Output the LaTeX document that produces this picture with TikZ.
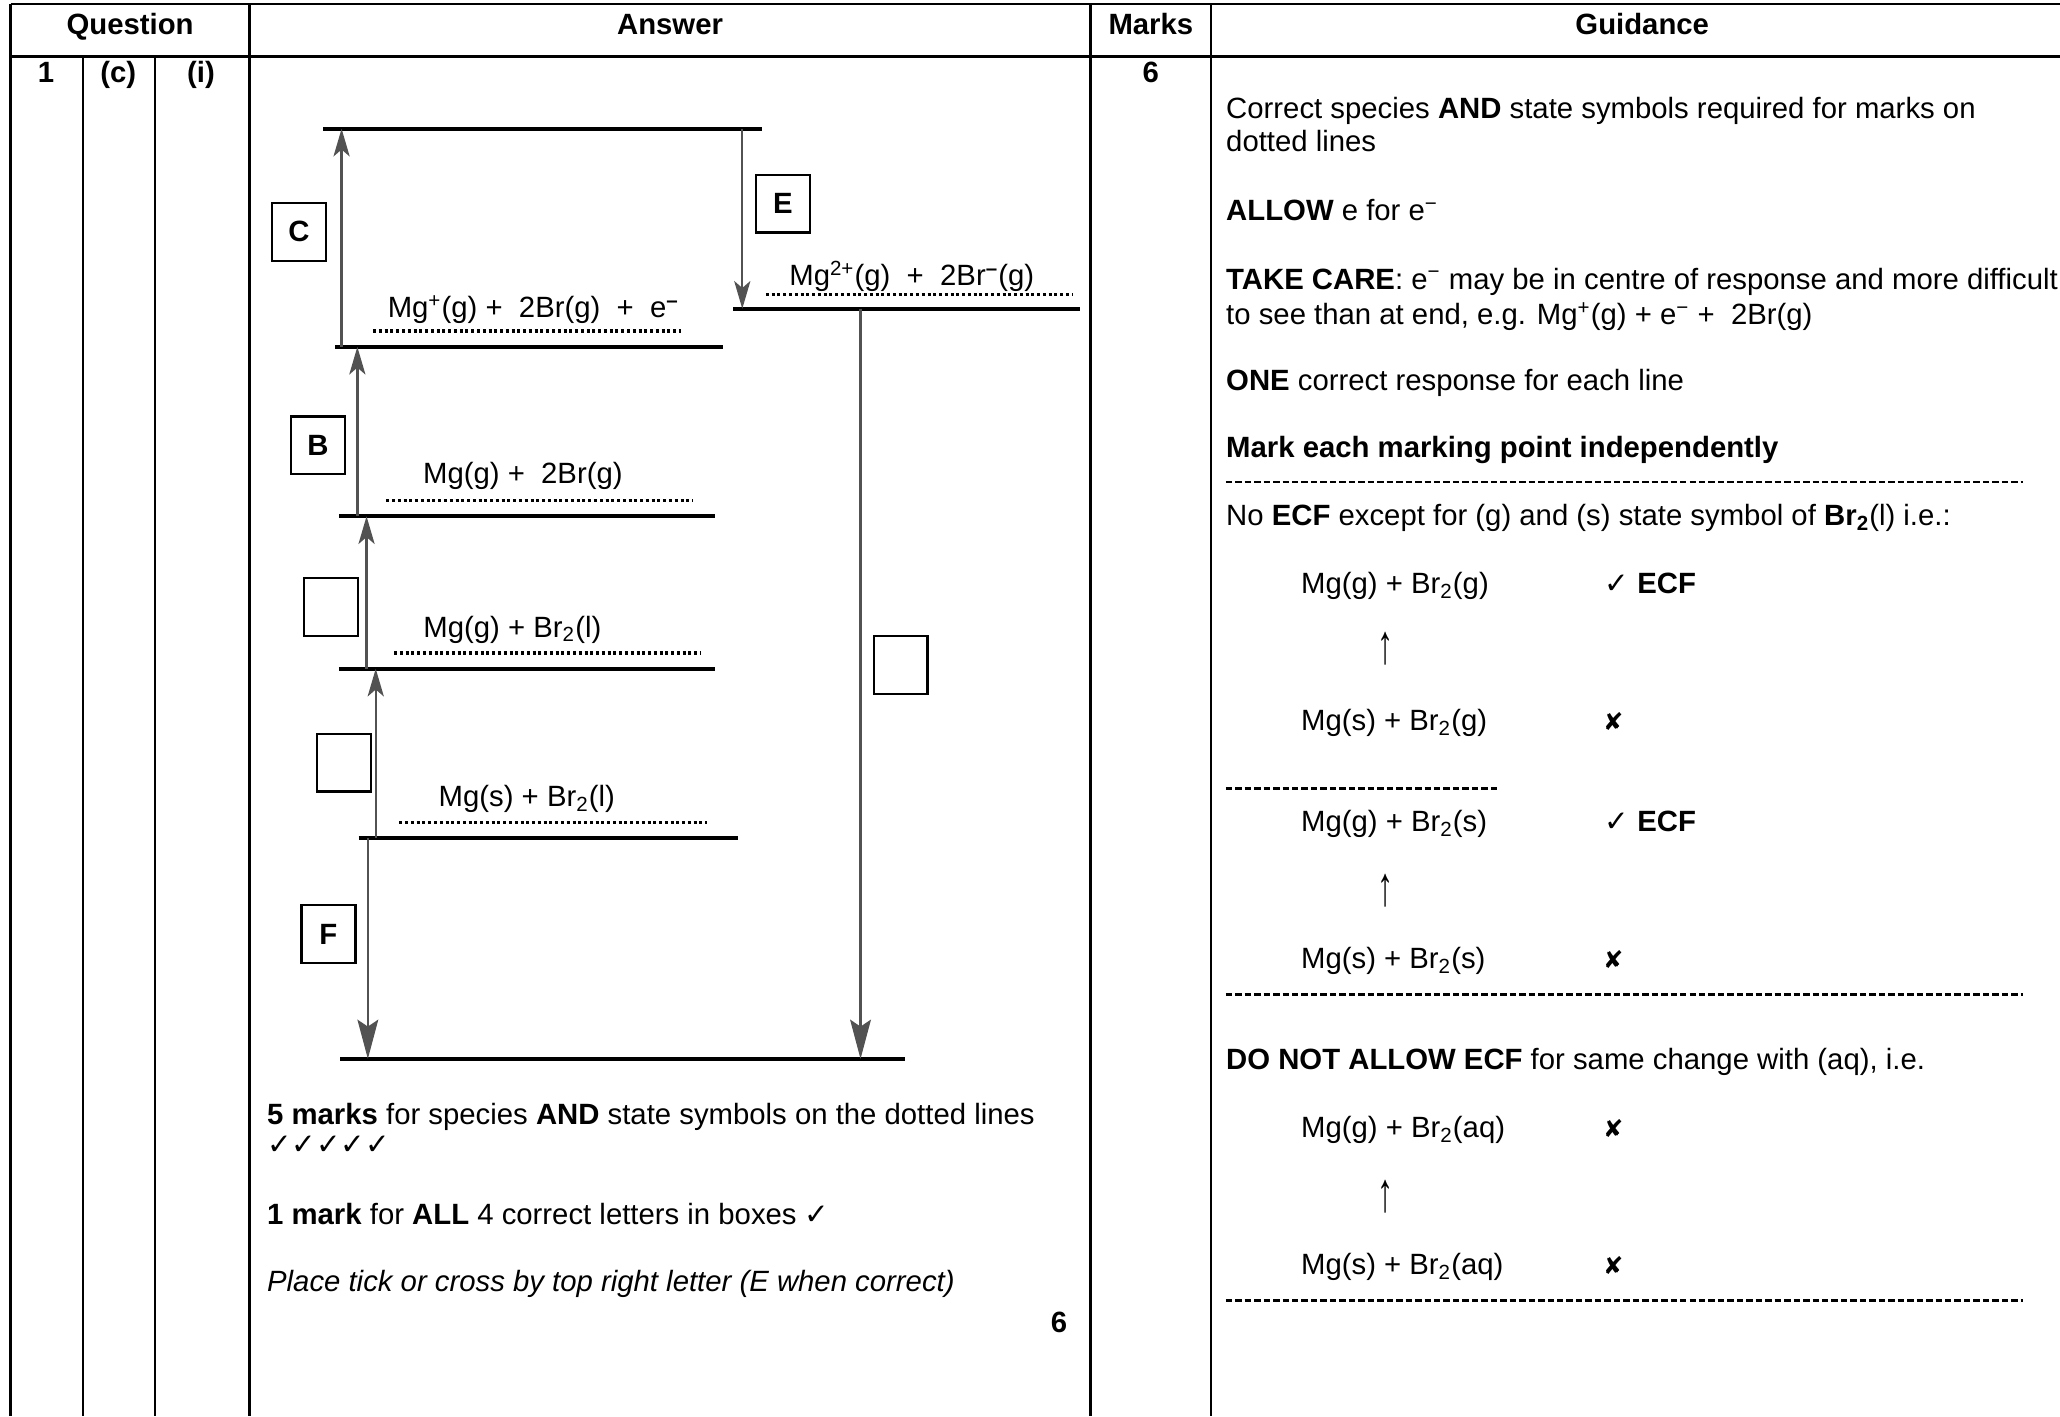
\documentclass[tikz,border=0pt]{standalone}
\usepackage{fontspec}
\usepackage{graphicx}
\setmainfont{Liberation Sans}
\newfontfamily\symfont{DejaVu Sans}
\usetikzlibrary{arrows.meta}

\newcommand{\tickmk}{{\symfont ✓}}
\newcommand{\crossmk}{{\symfont\fontsize{10.5}{10.5}\selectfont ✘}}
\newcommand{\uparr}{\scalebox{1.1}[1.9]{↑}}
\newcommand{\elec}{e\textsuperscript{−}}

\tikzset{
  txt/.style={anchor=base west, inner sep=0pt},
  mid/.style={anchor=base, inner sep=0pt},
  hd/.style={anchor=base, inner sep=0pt, font=\fontsize{12.7}{15}\selectfont\bfseries},
  rule/.style={line width=1pt},
  level/.style={line width=1.6pt},
  dotline/.style={line width=1.4pt, dash pattern=on 1.3pt off 1.2pt},
  hyph/.style={line width=1.1pt, dash pattern=on 2.8pt off 1.3pt},
  arrup/.style={draw=black!68, line width=1pt, -{Stealth[length=12pt, width=7pt, inset=3pt]}},
  arrdn/.style={draw=black!68, line width=1pt, -{Stealth[length=17pt, width=9pt, inset=3pt]}},
  letterbox/.style={draw, line width=1pt, inner sep=0pt, minimum width=0.82cm, minimum height=0.88cm, font=\fontsize{12.7}{15}\selectfont\bfseries},
}

\begin{document}
\begin{tikzpicture}[x=0.02cm, y=-0.02cm, font=\fontsize{12.7}{15}\selectfont]
\useasboundingbox (0,0) rectangle (1568,1078);

% table
\draw[rule] (8,3) -- (1568,3);
\draw[rule] (8,43) -- (1568,43);
\foreach \cx in {8,190,830,922} \draw[rule] (\cx,3) -- (\cx,1078);
\foreach \cx in {63,118} \draw[rule] (\cx,43) -- (\cx,1078);
\node[hd] (hq) at (99,26) {Question};
\node[hd] (ha) at (510,26) {Answer};
\node[hd] (hm) at (876,26) {Marks};
\node[hd] (hg) at (1250,26) {Guidance};
\node[hd] (q1) at (35,63) {1};
\node[hd] (qc) at (90,63) {(c)};
\node[hd] (qi) at (153,63) {(i)};
\node[hd] (mk) at (876,63) {6};

% energy levels
\draw[level] (246,98) -- (580,98);
\draw[level] (558,235) -- (822,235);
\draw[level] (255,264) -- (550,264);
\draw[level] (258,393) -- (544,393);
\draw[level] (258,509) -- (544,509);
\draw[level] (273,638) -- (562,638);
\draw[level] (259,806) -- (689,806);

% dotted answer lines
\draw[dotline] (284,252) -- (518,252);
\draw[dotline] (583,224) -- (816,224);
\draw[dotline] (294,381) -- (527,381);
\draw[dotline] (300,497) -- (533,497);
\draw[dotline] (304,626) -- (538,626);

\node[mid] (sp1) at (406,242) {Mg\textsuperscript{+}(g) +\ \ 2Br(g)\ \ +\ \ e\textsuperscript{\textbf{–}}};
\node[mid] (sp2) at (694,217) {Mg\textsuperscript{2+}(g)\ \ +\ \ 2Br\textsuperscript{\textbf{–}}(g)};
\node[mid] (sp3) at (398,368) {Mg(g) +\ \ 2Br(g)};
\node[mid] (sp4) at (390,485) {Mg(g) + Br\textsubscript{2}(l)};
\node[mid] (sp5) at (401,614) {Mg(s) + Br\textsubscript{2}(l)};

% arrows
\coordinate (Cs) at (260,264); \coordinate (Ce) at (260,98);
\coordinate (Bs) at (272,393); \coordinate (Be) at (272,264);
\coordinate (Gs) at (279,509); \coordinate (Ge) at (279,393);
\coordinate (Ms) at (286,638); \coordinate (Me) at (286,509);
\coordinate (Fs) at (280,638); \coordinate (Fe) at (280,806);
\coordinate (Es) at (565,98);  \coordinate (Ee) at (565,235);
\coordinate (Ls) at (655,235); \coordinate (Le) at (655,806);
\draw[arrup] (Cs) -- (Ce);
\draw[arrup] (Bs) -- (Be);
\draw[arrup] (Gs) -- (Ge);
\draw[arrup] (Ms) -- (Me);
\draw[arrdn] (Fs) -- (Fe);
\draw[arrup] (Es) -- (Ee);
\draw[arrdn] (Ls) -- (Le);

% letter boxes
\node[letterbox] (bC) at (227.5,176.5) {C};
\node[letterbox] (bE) at (596,155) {E};
\node[letterbox] (bB) at (242,339) {B};
\node[letterbox] (bq1) at (252,462) {};
\node[letterbox] (bq2) at (262,580.5) {};
\node[letterbox] (bF) at (250,711) {F};
\node[letterbox] (bq3) at (685.5,506) {};

% answer notes
\node[txt] (a1) at (203,856) {\textbf{5 marks} for species \textbf{AND} state symbols on the dotted lines};
\node[txt] (a2) at (203,879) {\symfont ✓✓✓✓✓};
\node[txt] (a3) at (203,932) {\textbf{1 mark} for \textbf{ALL} 4 correct letters in boxes \tickmk};
\node[txt] (a4) at (203,983) {\itshape Place tick or cross by top right letter (E when correct)};
\node[hd] (a5) at (806,1014) {6};

% guidance
\node[txt] (g1) at (933,90) {Correct species \textbf{AND} state symbols required for marks on};
\node[txt] (g2) at (933,115) {dotted lines};
\node[txt] (g3) at (933,168) {\textbf{ALLOW} e for \elec};
\node[txt] (g4) at (933,220) {\textbf{TAKE CARE}: \elec\ may be in centre of response and more difficult};
\node[txt] (g5) at (933,247) {to see than at end, e.g. Mg\textsuperscript{+}(g) + \elec\ +\ \ 2Br(g)};
\node[txt] (g6) at (933,297) {\textbf{ONE} correct response for each line};
\node[txt] (g7) at (933,348) {\textbf{Mark each marking point independently}};
\draw[hyph] (933,367) -- (1540,367);
\node[txt] (g8) at (933,400) {No \textbf{ECF} except for (g) and (s) state symbol of \textbf{Br\textsubscript{2}}(l) i.e.:};

\node[txt] (e1) at (990,452) {Mg(g) + Br\textsubscript{2}(g)};
\node[txt] (t1) at (1221,452) {\tickmk\ \textbf{ECF}};
\node[inner sep=0pt] (u1) at (1055,494) {\uparr};
\node[txt] (e2) at (990,556) {Mg(s) + Br\textsubscript{2}(g)};
\node[inner sep=0pt] (x2) at (1228,549) {\crossmk};
\draw[hyph] (933,600) -- (1140,600);
\node[txt] (e3) at (990,633) {Mg(g) + Br\textsubscript{2}(s)};
\node[txt] (t3) at (1221,633) {\tickmk\ \textbf{ECF}};
\node[inner sep=0pt] (u2) at (1055,678) {\uparr};
\node[txt] (e4) at (990,737) {Mg(s) + Br\textsubscript{2}(s)};
\node[inner sep=0pt] (x4) at (1228,730) {\crossmk};
\draw[hyph] (933,757) -- (1540,757);

\node[txt] (g9) at (933,814) {\textbf{DO NOT ALLOW ECF} for same change with (aq), i.e.};
\node[txt] (e5) at (990,866) {Mg(g) + Br\textsubscript{2}(aq)};
\node[inner sep=0pt] (x5) at (1228,859) {\crossmk};
\node[inner sep=0pt] (u3) at (1055,911) {\uparr};
\node[txt] (e6) at (990,970) {Mg(s) + Br\textsubscript{2}(aq)};
\node[inner sep=0pt] (x6) at (1228,963) {\crossmk};
\draw[hyph] (933,990) -- (1540,990);
\end{tikzpicture}
\end{document}
